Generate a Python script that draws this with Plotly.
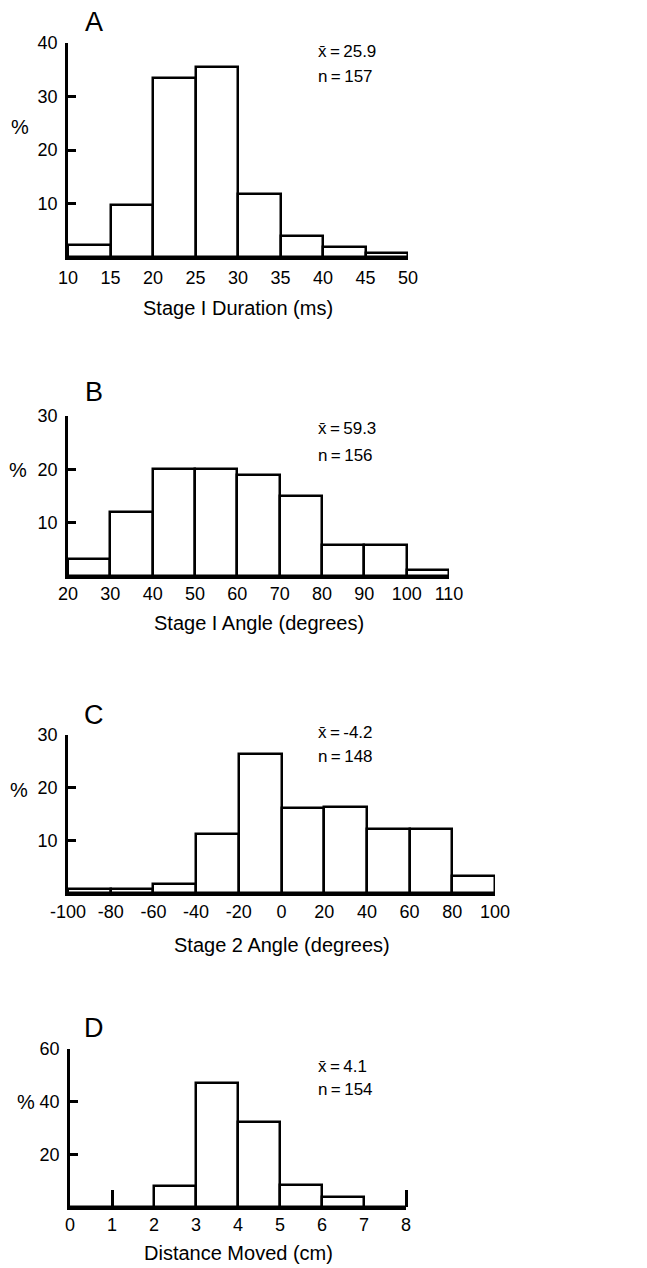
import plotly.graph_objects as go

W, H = 647, 1268
FONT = "Liberation Sans"

# ---- data ----
a_edges = [10, 15, 20, 25, 30, 35, 40, 45, 50]
a_pct = [2.2, 9.8, 33.5, 35.6, 11.8, 3.9, 1.8, 0.8]

b_edges = [20, 30, 40, 50, 60, 70, 80, 90, 100, 110]
b_pct = [3.1, 12.0, 20.0, 20.0, 18.9, 15.0, 5.9, 5.9, 1.1]

c_edges = [-100, -80, -60, -40, -20, 0, 20, 40, 60, 80, 100]
c_pct = [0.7, 0.7, 1.8, 11.2, 26.4, 16.2, 16.4, 12.2, 12.2, 3.2]

d_edges = [0, 1, 2, 3, 4, 5, 6, 7, 8]
d_pct = [0, 0, 7.8, 47.1, 32.3, 8.5, 3.7, 0]

panels = [
    dict(letter="A", edges=a_edges, pct=a_pct, title="Stage I Duration (ms)",
         mean="25.9", n="157", yticks=[10, 20, 30, 40], ymax=40,
         xticks=a_edges, xpx=(68, 408), ypx=(43, 257), pct_px=20,
         letter_px=(94, 22), pct_py=127, mean_py=52, n_py=77, title_py=308, tl_pad=3),
    dict(letter="B", edges=b_edges, pct=b_pct, title="Stage I Angle (degrees)",
         mean="59.3", n="156", yticks=[10, 20, 30], ymax=30,
         xticks=b_edges, xpx=(68, 449), ypx=(416, 576), pct_px=18,
         letter_px=(94, 392), pct_py=470, mean_py=428, n_py=455, title_py=623, tl_pad=0),
    dict(letter="C", edges=c_edges, pct=c_pct, title="Stage 2 Angle (degrees)",
         mean="-4.2", n="148", yticks=[10, 20, 30], ymax=30,
         xticks=c_edges, xpx=(68, 495), ypx=(735, 893), pct_px=19,
         letter_px=(94, 715), pct_py=790, mean_py=732, n_py=757, title_py=945, tl_pad=1),
    dict(letter="D", edges=d_edges, pct=d_pct, title="Distance Moved (cm)",
         mean="4.1", n="154", yticks=[20, 40, 60], ymax=60,
         xticks=d_edges, xpx=(70, 406), ypx=(1049, 1207), pct_px=26,
         letter_px=(94, 1028), pct_py=1102, mean_py=1066, n_py=1089, title_py=1253, tl_pad=0),
]

fig = go.Figure()
annotations = []
LW = 2.5

for i, p in enumerate(panels, start=1):
    xa = "x" if i == 1 else f"x{i}"
    ya = "y" if i == 1 else f"y{i}"
    e = p["edges"]
    centers = [(e[k] + e[k + 1]) / 2 for k in range(len(e) - 1)]
    widths = [e[k + 1] - e[k] for k in range(len(e) - 1)]
    fig.add_trace(go.Bar(
        x=centers, y=p["pct"], width=widths,
        marker=dict(color="white", line=dict(color="black", width=LW)),
        xaxis=xa, yaxis=ya, showlegend=False, hoverinfo="skip",
    ))
    xd = [p["xpx"][0] / W, p["xpx"][1] / W]
    yd = [1 - p["ypx"][1] / H, 1 - p["ypx"][0] / H]
    xkey = "xaxis" if i == 1 else f"xaxis{i}"
    ykey = "yaxis" if i == 1 else f"yaxis{i}"
    xaxis = dict(
        domain=xd, anchor=ya, range=[e[0], e[-1]], automargin=False,
        showline=True, linecolor="black", linewidth=LW,
        showgrid=False, zeroline=False,
        tickvals=p["xticks"], ticktext=[str(v) for v in p["xticks"]],
        ticks="", ticklabelstandoff=p["tl_pad"],
        tickfont=dict(family=FONT, size=18, color="black"),
    )
    if p["letter"] == "D":
        xaxis["minor"] = dict(tickvals=[1, 8], ticks="inside", ticklen=17,
                              tickwidth=LW, tickcolor="black", showgrid=False)
    yaxis = dict(
        domain=yd, anchor=xa, range=[0, p["ymax"]], automargin=False,
        showline=True, linecolor="black", linewidth=LW,
        showgrid=False, zeroline=False,
        tickvals=p["yticks"], ticks="inside", ticklen=8, tickwidth=LW,
        tickcolor="black", ticklabelstandoff=4,
        tickfont=dict(family=FONT, size=18, color="black"),
    )
    fig.update_layout(**{xkey: xaxis, ykey: yaxis})

    lx, ly = p["letter_px"]
    annotations.append(dict(text=p["letter"], x=lx / W, y=1 - ly / H,
                            xref="paper", yref="paper", showarrow=False,
                            xanchor="center", yanchor="middle",
                            font=dict(family=FONT, size=27, color="black")))
    annotations.append(dict(text="%", x=p["pct_px"] / W, y=1 - p["pct_py"] / H,
                            xref="paper", yref="paper", showarrow=False,
                            xanchor="center", yanchor="middle",
                            font=dict(family=FONT, size=20, color="black")))
    annotations.append(dict(text="x\u0304\u2009=\u2009" + p["mean"], x=316 / W,
                            y=1 - p["mean_py"] / H,
                            xref="paper", yref="paper", showarrow=False,
                            xanchor="left", yanchor="middle",
                            font=dict(family=FONT, size=17, color="black")))
    annotations.append(dict(text="n\u2009=\u2009" + p["n"], x=316 / W, y=1 - p["n_py"] / H,
                            xref="paper", yref="paper", showarrow=False,
                            xanchor="left", yanchor="middle",
                            font=dict(family=FONT, size=17, color="black")))
    annotations.append(dict(text=p["title"], x=(xd[0] + xd[1]) / 2, y=1 - p["title_py"] / H,
                            xref="paper", yref="paper", showarrow=False,
                            xanchor="center", yanchor="middle",
                            font=dict(family=FONT, size=20, color="black")))

fig.update_layout(
    width=W, height=H, margin=dict(l=0, r=0, t=0, b=0),
    paper_bgcolor="white", plot_bgcolor="white",
    bargap=0, annotations=annotations,
)

fig.write_html("out.html")
